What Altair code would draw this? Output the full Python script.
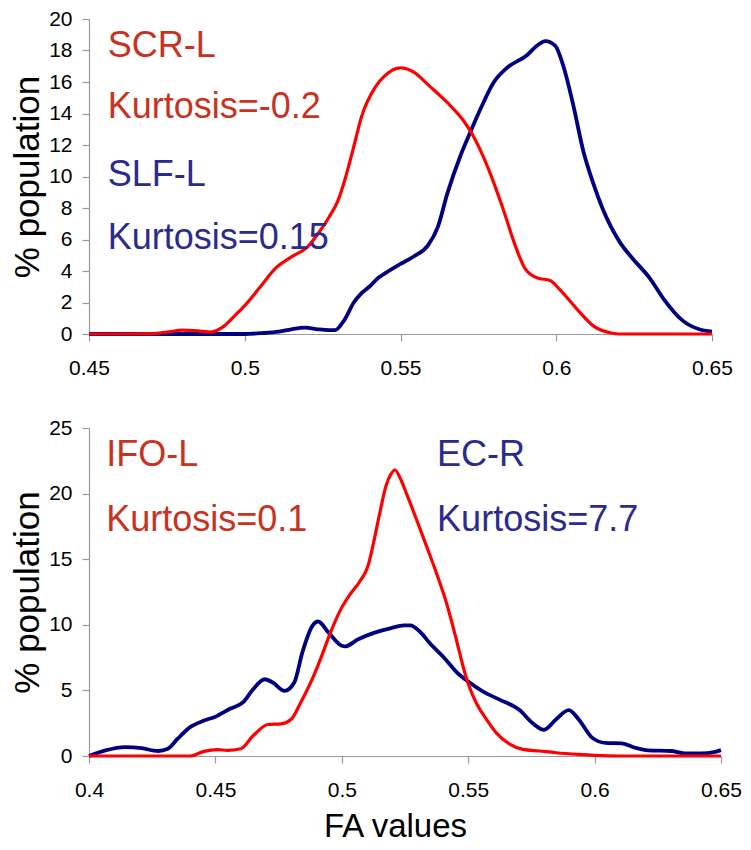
import altair as alt
import pandas as pd

# ---------------- data ----------------
# Top panel
scr_x = [0.45, 0.46, 0.47, 0.475, 0.48, 0.485, 0.489, 0.493, 0.497, 0.50, 0.505, 0.51, 0.515,
         0.52, 0.524, 0.527, 0.53, 0.532, 0.535, 0.5375, 0.542, 0.545, 0.55, 0.5545, 0.559,
         0.565, 0.57, 0.573, 0.578, 0.583, 0.5865, 0.59, 0.594, 0.598, 0.601, 0.607, 0.612,
         0.618, 0.62, 0.65]
scr_y = [0, 0, 0.02, 0.12, 0.25, 0.2, 0.12, 0.45, 1.2, 1.8, 3.0, 4.2, 4.9,
         5.5, 6.5, 7.4, 8.5, 9.7, 11.9, 13.8, 15.7, 16.4, 16.9, 16.6, 15.8,
         14.7, 13.6, 12.7, 10.6, 7.9, 5.8, 4.15, 3.55, 3.4, 2.85, 1.5, 0.5,
         0.05, 0, 0]

slf_x = [0.45, 0.50, 0.505, 0.511, 0.515, 0.5195, 0.5235, 0.527, 0.529, 0.532, 0.535, 0.5375,
         0.540, 0.5428, 0.545, 0.55, 0.5545, 0.5587, 0.562, 0.565, 0.5694, 0.5726, 0.5757,
         0.58, 0.5842, 0.5906, 0.5938, 0.5965, 0.5997, 0.6023, 0.6055, 0.6087, 0.612, 0.615,
         0.6205, 0.6247, 0.63, 0.6342, 0.6406, 0.6459, 0.65]
slf_y = [0, 0, 0.05, 0.15, 0.3, 0.4, 0.3, 0.25, 0.25, 0.9, 2.0, 2.6,
         3.0, 3.55, 3.85, 4.45, 4.95, 5.6, 6.8, 8.9, 11.4, 12.9, 14.3,
         16.0, 16.9, 17.7, 18.3, 18.6, 18.3, 17.0, 14.5, 11.6, 9.5, 7.9,
         5.8, 4.75, 3.55, 2.3, 0.85, 0.3, 0.15]

# Bottom panel
ifo_x = [0.40, 0.44, 0.4455, 0.4508, 0.4547, 0.46, 0.465, 0.4708, 0.476, 0.48, 0.4838, 0.4877,
         0.4916, 0.4955, 0.4994, 0.5032, 0.5071, 0.5104, 0.5125, 0.515, 0.5175, 0.5195, 0.521,
         0.5235, 0.5258, 0.5298, 0.5337, 0.5376, 0.5415, 0.5454, 0.548, 0.55, 0.5533, 0.5572,
         0.5611, 0.5664, 0.5716, 0.5781, 0.5847, 0.5937, 0.60, 0.61, 0.65]
ifo_y = [0, 0, 0.35, 0.48, 0.43, 0.55, 1.56, 2.4, 2.45, 2.8, 4.1, 5.6,
         7.4, 9.4, 11.1, 12.3, 13.3, 14.5, 16.2, 18.5, 20.6, 21.5, 21.8,
         21.0, 19.9, 17.9, 15.9, 13.85, 11.6, 8.8, 6.8, 5.5, 4.0, 2.8,
         1.76, 0.9, 0.5, 0.38, 0.25, 0.12, 0.05, 0, 0]

ecr_x = [0.40, 0.4065, 0.4143, 0.4208, 0.4273, 0.4312, 0.435, 0.44, 0.4455, 0.45, 0.4558, 0.461,
         0.465, 0.4695, 0.4727, 0.4773, 0.4812, 0.4844, 0.4883, 0.4906, 0.4948, 0.50, 0.5013,
         0.5065, 0.513, 0.5195, 0.5247, 0.5271, 0.531, 0.535, 0.5402, 0.5454, 0.55, 0.5559,
         0.5624, 0.5703, 0.5755, 0.58, 0.5846, 0.5898, 0.5938, 0.599, 0.6042, 0.6108, 0.616,
         0.6212, 0.6303, 0.6356, 0.6421, 0.6473, 0.65]
ecr_y = [0, 0.43, 0.68, 0.6, 0.38, 0.55, 1.3, 2.2, 2.7, 3.0, 3.6, 4.1,
         5.1, 5.85, 5.6, 4.96, 5.6, 7.9, 9.9, 10.25, 9.4, 8.4, 8.35,
         8.9, 9.4, 9.75, 9.95, 9.95, 9.45, 8.56, 7.55, 6.4, 5.67, 4.9,
         4.3, 3.5, 2.5, 2.0, 2.77, 3.5, 2.77, 1.4, 1.0, 0.96, 0.63,
         0.43, 0.38, 0.2, 0.2, 0.3, 0.45]

# annotations
top_labels = ["SCR-L", "Kurtosis=-0.2", "SLF-L", "Kurtosis=0.15"]
top_label_x = [0.456, 0.456, 0.456, 0.456]
top_label_y = [17.6, 13.7, 9.4, 5.4]
top_label_series = ["red", "red", "blue", "blue"]

bot_labels = ["IFO-L", "Kurtosis=0.1", "EC-R", "Kurtosis=7.7"]
bot_label_x = [0.4068, 0.4068, 0.5377, 0.5377]
bot_label_y = [22.1, 17.15, 22.1, 17.15]
bot_label_series = ["red", "red", "blue", "blue"]

top_xticks = [0.45, 0.5, 0.55, 0.6, 0.65]
top_yticks = [0, 2, 4, 6, 8, 10, 12, 14, 16, 18, 20]
bot_xticks = [0.4, 0.45, 0.5, 0.55, 0.6, 0.65]
bot_yticks = [0, 5, 10, 15, 20, 25]

LINE_RED = "#FF0000"
LINE_BLUE = "#000080"
TEXT_RED = "#C8321E"
TEXT_BLUE = "#2B2B8F"

FONT = "Liberation Sans"


def series_df(xs, ys, name):
    return pd.DataFrame({"fa": xs, "pop": ys, "series": name})


def panel(red_df, blue_df, lab_df, xdom, ydom, xticks, yticks, w, h, xtitle, title_x=None):
    xkw = dict(values=xticks, labelExpr="format(datum.value, '.2~f')", grid=False,
               title=xtitle, labelFlush=False, labelOverlap=False)
    if title_x is not None:
        xkw["titleX"] = title_x
    xax = alt.Axis(**xkw)
    yax = alt.Axis(values=yticks, grid=False, title="% population", labelOverlap=False)
    xs = alt.Scale(domain=xdom, nice=False, zero=False)
    ys = alt.Scale(domain=ydom, nice=False)

    blue = alt.Chart(blue_df).mark_line(color=LINE_BLUE, strokeWidth=3.8,
                                        interpolate="monotone").encode(
        x=alt.X("fa:Q", scale=xs, axis=xax),
        y=alt.Y("pop:Q", scale=ys, axis=yax),
    )
    red = alt.Chart(red_df).mark_line(color=LINE_RED, strokeWidth=3.2,
                                      interpolate="monotone").encode(
        x=alt.X("fa:Q", scale=xs, axis=xax),
        y=alt.Y("pop:Q", scale=ys, axis=yax),
    )
    txt = alt.Chart(lab_df).mark_text(align="left", baseline="alphabetic",
                                      font=FONT, fontSize=36).encode(
        x=alt.X("x:Q", scale=xs, axis=xax),
        y=alt.Y("y:Q", scale=ys, axis=yax),
        text="label:N",
        color=alt.Color("series:N", scale=alt.Scale(domain=["red", "blue"],
                                                    range=[TEXT_RED, TEXT_BLUE]),
                        legend=None),
    )
    return alt.layer(blue, red, txt).properties(width=w, height=h)


top_lab = pd.DataFrame({"label": top_labels, "x": top_label_x, "y": top_label_y,
                        "series": top_label_series})
bot_lab = pd.DataFrame({"label": bot_labels, "x": bot_label_x, "y": bot_label_y,
                        "series": bot_label_series})

top = panel(series_df(scr_x, scr_y, "SCR-L"), series_df(slf_x, slf_y, "SLF-L"), top_lab,
            [0.45, 0.65], [0, 20], top_xticks, top_yticks, 623, 315, None)
bottom = panel(series_df(ifo_x, ifo_y, "IFO-L"), series_df(ecr_x, ecr_y, "EC-R"), bot_lab,
               [0.4, 0.65], [0, 25], bot_xticks, bot_yticks, 632, 328, "FA values",
               title_x=306)

chart = alt.vconcat(top, bottom, spacing=39).resolve_scale(
    x="independent", y="independent", color="independent"
).properties(
    padding={"left": 2, "top": 0, "right": 0, "bottom": 0}
).configure_view(
    stroke=None
).configure_axis(
    domainColor="#9A9A9A",
    tickColor="#9A9A9A",
    domainWidth=1.2,
    tickWidth=1.2,
    tickSize=7,
    labelFont=FONT,
    labelFontSize=21,
    labelColor="#000000",
    titleFont=FONT,
    titleFontWeight="normal",
    titleColor="#000000",
).configure_axisX(
    labelPadding=16,
    titleFontSize=33,
    titlePadding=10,
).configure_axisY(
    labelPadding=10,
    titleFontSize=35,
    titlePadding=3,
)

chart.save("out.html", embed_options={"renderer": "svg", "actions": False})
